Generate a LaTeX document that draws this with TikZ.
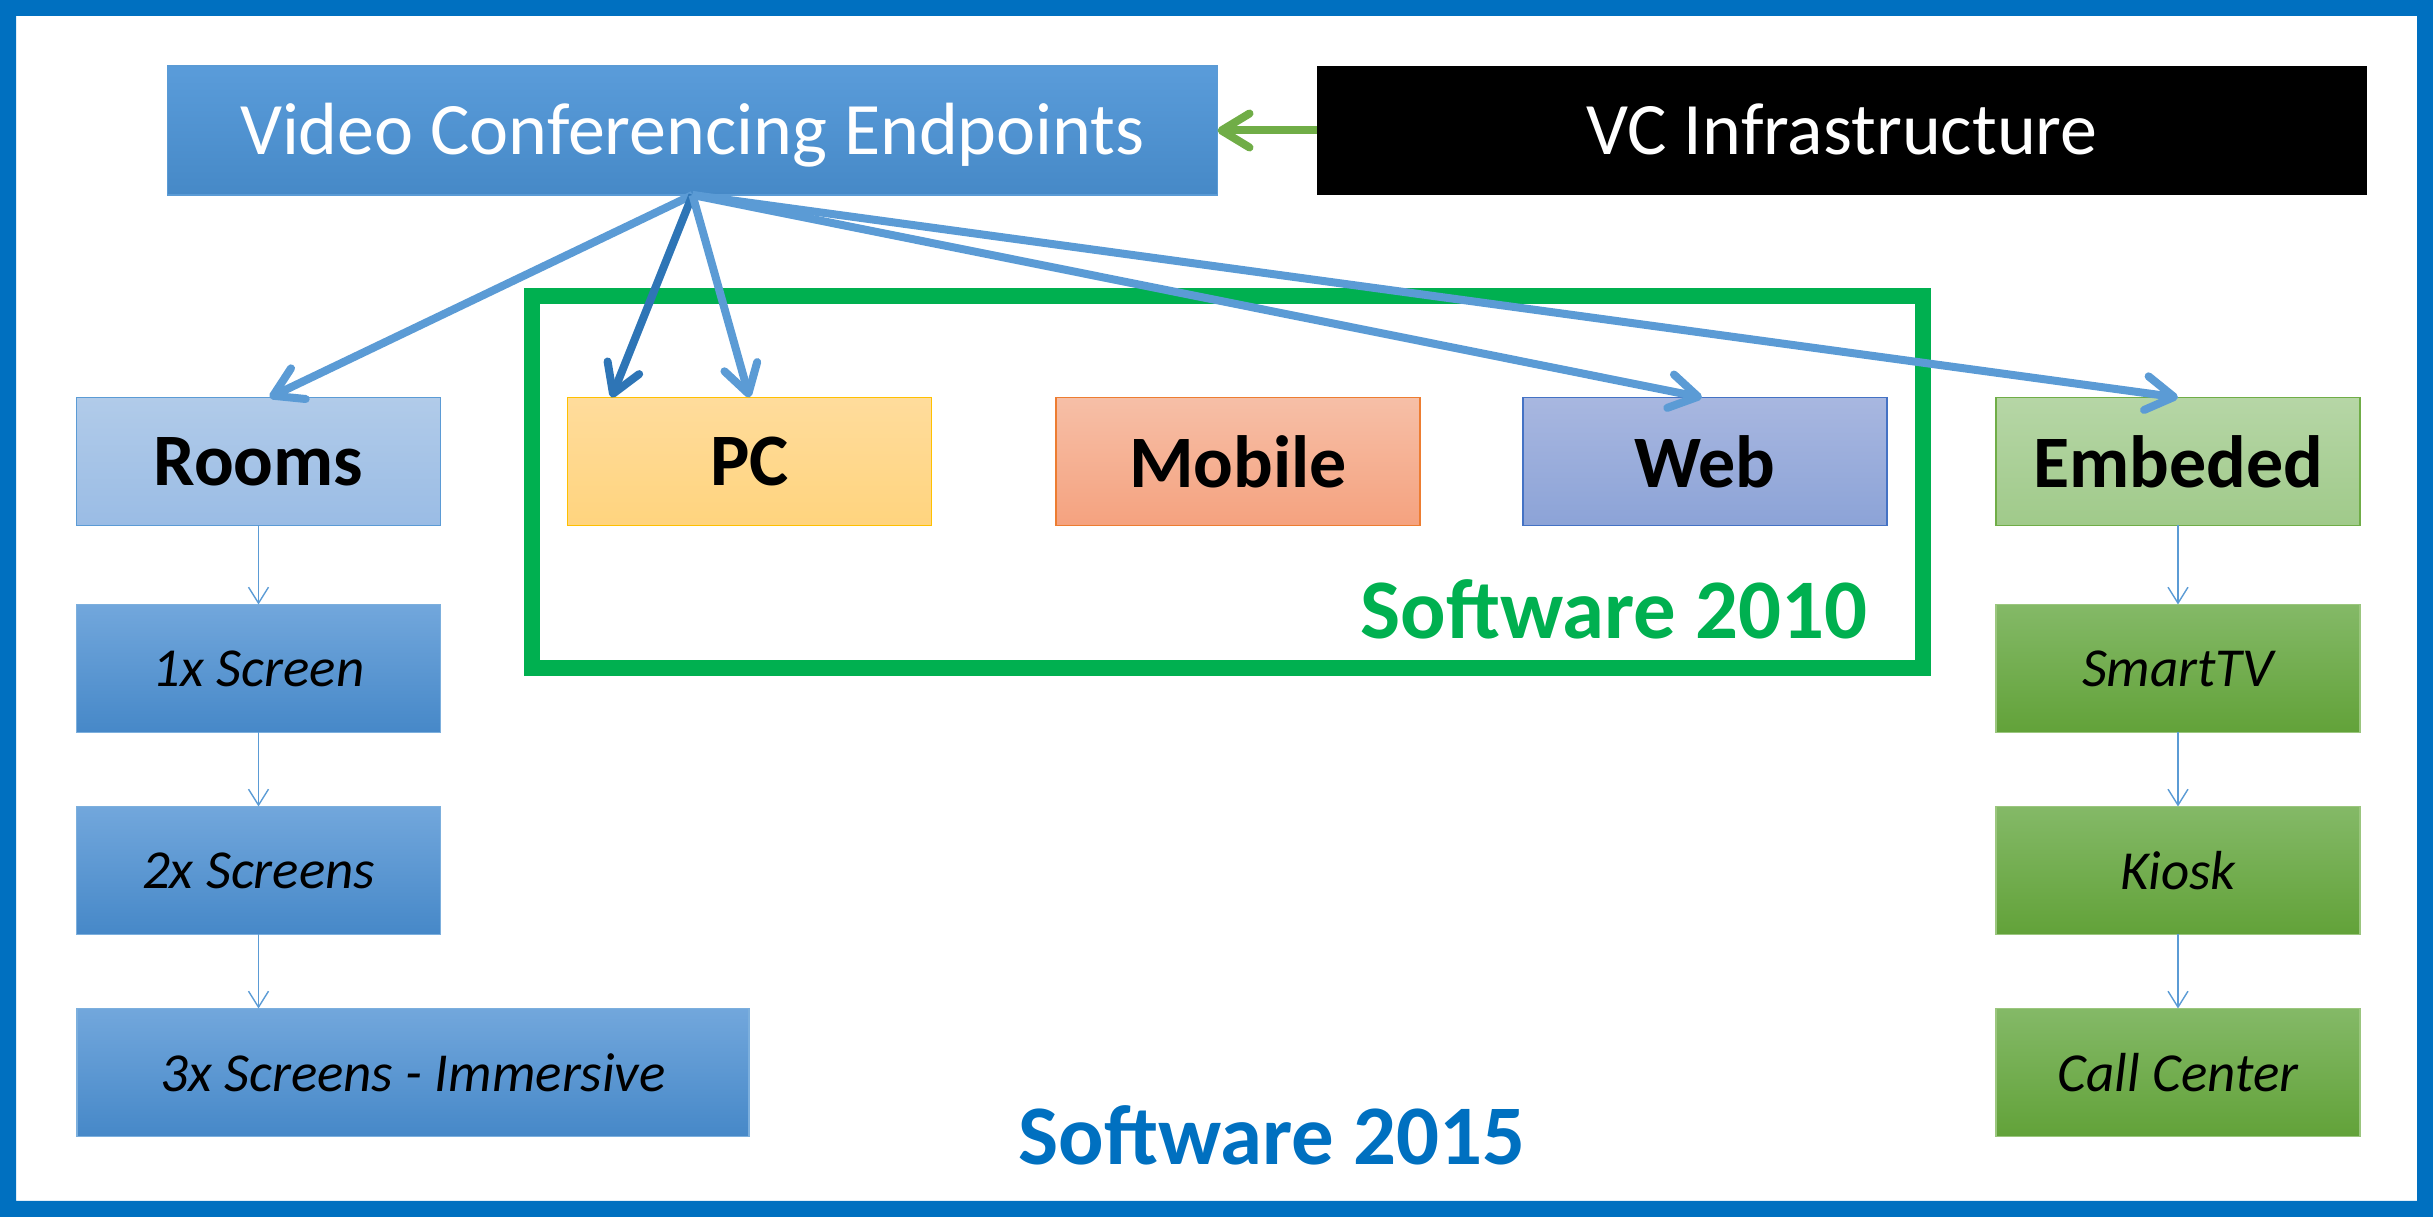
\documentclass[tikz,border=0pt]{standalone}
\usepackage{fontspec}
\setmainfont{Carlito}
\usetikzlibrary{arrows.meta,calc}
\definecolor{frameblue}{HTML}{0070C0}
\definecolor{arrblue}{HTML}{5B9BD5}
\definecolor{darkarr}{HTML}{2E75B6}
\definecolor{vgreen}{HTML}{70AD47}
\definecolor{swgreen}{HTML}{00B050}
\definecolor{blue1}{HTML}{72A7DC}
\definecolor{blue2}{HTML}{5B9BD8}
\definecolor{blue3}{HTML}{4688C8}
\definecolor{green1}{HTML}{84B967}
\definecolor{green2}{HTML}{70B046}
\definecolor{green3}{HTML}{62A239}
\definecolor{vcetop}{HTML}{5A9CDA}
\definecolor{vcebot}{HTML}{4689C7}
\definecolor{roomstop}{HTML}{B1CBE9}
\definecolor{roomsbot}{HTML}{9ABCE5}
\definecolor{pcdraw}{HTML}{FFC000}
\definecolor{pctop}{HTML}{FFDC9C}
\definecolor{pcbot}{HTML}{FFD47E}
\definecolor{mobdraw}{HTML}{ED7D31}
\definecolor{mobtop}{HTML}{F6BFA7}
\definecolor{mobbot}{HTML}{F5A27F}
\definecolor{webdraw}{HTML}{4472C4}
\definecolor{webtop}{HTML}{A8B7E0}
\definecolor{webbot}{HTML}{8CA3D7}
\definecolor{embtop}{HTML}{B6D6A6}
\definecolor{embbot}{HTML}{A0CA8A}
\newcommand\fsHead{\fontsize{18.5pt}{22pt}\selectfont}
\newcommand\fsSub{\fontsize{13.75pt}{16pt}\selectfont}
\newcommand\fsSW{\fontsize{21.2pt}{25pt}\selectfont}
\begin{document}
\begin{tikzpicture}[x=0.25pt,y=-0.25pt,
  bx/.style 2 args={minimum width=#1*0.25pt, minimum height=#2*0.25pt, inner sep=0pt, outer sep=0pt, line width=0.35pt},
  headbox/.style={bx={1050}{129}, text=white, font=\fsHead, text height=11.9pt, text depth=0pt},
  topbox/.style={bx={364}{128}, font=\fsHead\bfseries},
  subblue/.style={bx={364}{128}, font=\fsSub\itshape, draw=arrblue!80!white, top color=blue1, middle color=blue2, bottom color=blue3},
  subgreen/.style={bx={364}{128}, font=\fsSub\itshape, draw=vgreen!70!white, top color=green1, middle color=green2, bottom color=green3},
  bigarr/.style={line width=2pt, arrblue, -{Straight Barb[length=7pt,width=8.5pt,round]}},
  smallarr/.style={line width=0.35pt, arrblue, -{Straight Barb[length=4pt,width=5pt]}}
]
\useasboundingbox (0,0) rectangle (2433,1217);
% outer frame
\fill[frameblue, even odd rule] (0,0) rectangle (2433,1217) (16,16) rectangle (2417,1201);

% header boxes
\node[headbox, draw=arrblue, top color=vcetop, bottom color=vcebot] (vce) at (692.5,130.5) {Video Conferencing Endpoints};
\node[headbox, fill=black] (vci) at (1842,130.5) {VC Infrastructure};

% software 2010 frame
\draw[swgreen, line width=4pt] (531.5,296) rectangle (1922.5,668.5);
\node[anchor=base east, inner sep=0pt, text=swgreen, font=\fsSW\bfseries] (sw10) at (1868,639) {Software 2010};

% top row
\node[topbox, draw=arrblue, top color=roomstop, bottom color=roomsbot] (rooms) at (258.5,461.5) {Rooms};
\node[topbox, draw=pcdraw, top color=pctop, bottom color=pcbot] (pc) at (749.5,461.5) {PC};
\node[topbox, draw=mobdraw, top color=mobtop, bottom color=mobbot] (mobile) at (1238,461.5) {Mobile};
\node[topbox, draw=webdraw, top color=webtop, bottom color=webbot] (web) at (1705,461.5) {Web};
\node[topbox, draw=vgreen, top color=embtop, bottom color=embbot] (embed) at (2178,461.5) {Embeded};

% rooms column
\node[subblue] (s1) at (258.5,668.5) {1x Screen};
\node[subblue] (s2) at (258.5,870.5) {2x Screens};
\node[subblue, bx={672}{128}] (s3) at (413,1072.5) {3x Screens - Immersive};

% embedded column
\node[subgreen] (e1) at (2178,668.5) {SmartTV};
\node[subgreen] (e2) at (2178,870.5) {Kiosk};
\node[subgreen] (e3) at (2178,1072.5) {Call Center};

\node[anchor=base, inner sep=0pt, text=frameblue, font=\fsSW\bfseries] (sw15) at (1272,1164) {Software 2015};

% connectors
\draw[bigarr, vgreen] (vci.west) -- (vce.east);
\draw[bigarr] (vce.south) -- ($(rooms.north)+(11,0)$);
\draw[bigarr, darkarr] (vce.south) -- ($(pc.north west)+(44,0)$);
\draw[bigarr] (vce.south) -- (pc.north);
\draw[bigarr] (vce.south) -- ($(web.north)+(-3,0)$);
\draw[bigarr] (vce.south) -- (embed.north);

\draw[smallarr] (rooms.south) -- (s1.north);
\draw[smallarr] (s1.south) -- (s2.north);
\draw[smallarr] (s2.south) -- (s2.south |- s3.north);
\draw[smallarr] (embed.south) -- (e1.north);
\draw[smallarr] (e1.south) -- (e2.north);
\draw[smallarr] (e2.south) -- (e3.north);
\end{tikzpicture}
\end{document}
